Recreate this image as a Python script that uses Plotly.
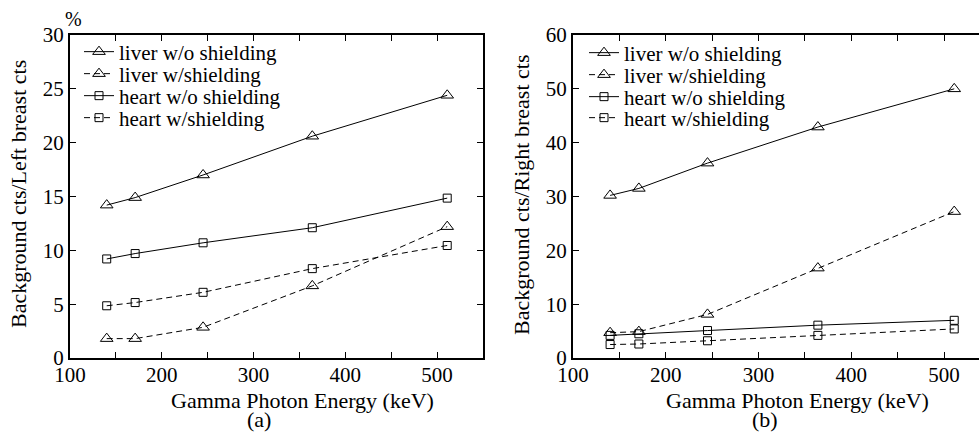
import plotly.graph_objects as go

energy = [140, 171, 245, 364, 511]

# Panel (a): Background cts / Left breast cts (%)
a_liver_wo = [14.2, 14.9, 17.0, 20.6, 24.4]
a_liver_w = [1.8, 1.8, 2.85, 6.7, 12.2]
a_heart_wo = [9.2, 9.7, 10.7, 12.1, 14.85]
a_heart_w = [4.85, 5.15, 6.1, 8.3, 10.45]

# Panel (b): Background cts / Right breast cts (%)
b_liver_wo = [30.2, 31.5, 36.2, 42.9, 50.0]
b_liver_w = [4.7, 4.9, 8.1, 16.7, 27.2]
b_heart_wo = [4.2, 4.5, 5.1, 6.1, 7.0]
b_heart_w = [2.5, 2.6, 3.2, 4.2, 5.4]

series_names = ["liver w/o shielding", "liver w/shielding",
                "heart w/o shielding", "heart w/shielding"]
x_ticks = [100, 200, 300, 400, 500]

FONT = "Liberation Serif, Times New Roman, serif"
W, H = 979, 432
MT, MB = 35, 74
PH = H - MT - MB


def px_x(px):
    return px / W


def px_y(py):
    return (H - MB - py) / PH


fig = go.Figure()

styles = [("triangle-up-open", 11, "solid"),
          ("triangle-up-open", 11, "dash"),
          ("square-open", 8, "solid"),
          ("square-open", 8, "dash")]

panel_a = [a_liver_wo, a_liver_w, a_heart_wo, a_heart_w]
panel_b = [b_liver_wo, b_liver_w, b_heart_wo, b_heart_w]

leg_rows_a = [52, 74, 96, 118]
leg_rows_b = [53, 75, 97, 118]
legend_font = dict(family=FONT, size=21, color="black")
legend_layout = {}

k = 0
for panel, (xa, ya), rows, lx in [(panel_a, ("x", "y"), leg_rows_a, 79),
                                  (panel_b, ("x2", "y2"), leg_rows_b, 584)]:
    for name, ys, (sym, sz, dash), row in zip(series_names, panel, styles, rows):
        k += 1
        lname = "legend" if k == 1 else f"legend{k}"
        fig.add_trace(go.Scatter(
            x=energy, y=ys, name=name, mode="lines+markers",
            line=dict(color="black", width=1, dash="6px,4px" if dash == "dash" else "solid"),
            marker=dict(symbol=sym, size=sz, color="black", line=dict(width=1, color="black")),
            xaxis=xa, yaxis=ya, legend=lname))
        legend_layout[lname] = dict(x=px_x(lx), y=px_y(row), xanchor="left", yanchor="middle",
                                    font=legend_font, bgcolor="rgba(0,0,0,0)",
                                    itemwidth=30, borderwidth=0)

tickfont = dict(family=FONT, size=21, color="black")

common_x = dict(showgrid=False, zeroline=False, showline=True, linecolor="black", linewidth=2,
                ticks="inside", ticklen=6, tickwidth=1, tickcolor="black",
                tickvals=x_ticks, tickfont=tickfont, mirror="ticks", automargin=False,
                ticklabelstandoff=-3,
                minor=dict(ticks="inside", dtick=50, tick0=100, ticklen=6, tickwidth=1, tickcolor="black"))
common_y = dict(showgrid=False, zeroline=False, showline=True, linecolor="black", linewidth=2,
                ticks="inside", ticklen=6, tickwidth=1, tickcolor="black", tickfont=tickfont,
                automargin=False)

fig.update_layout(
    width=W, height=H,
    margin=dict(l=0, r=0, t=MT, b=MB, autoexpand=False),
    plot_bgcolor="white", paper_bgcolor="white",
    font=dict(family=FONT, color="black"),
    xaxis=dict(domain=[70 / W, 483 / W], range=[100, 550], anchor="y", **common_x),
    yaxis=dict(domain=[0, 1], range=[0, 30], dtick=5, anchor="x", mirror="ticks", **common_y),
    xaxis2=dict(domain=[573 / W, 1.0], range=[100, 537.7], anchor="y2", **common_x),
    yaxis2=dict(domain=[0, 1], range=[0, 60], dtick=10, anchor="x2", mirror=False, **common_y),
    showlegend=True,
    **legend_layout,
)

ann_font = dict(family=FONT, size=22, color="black")
annotations = [
    dict(text="%", x=px_x(73), y=px_y(19), font=dict(family=FONT, size=20, color="black")),
    dict(text="Background cts/Left breast cts", x=px_x(18), y=px_y(194), textangle=-90, font=ann_font),
    dict(text="Background cts/Right breast cts", x=px_x(522), y=px_y(195), textangle=-90, font=ann_font),
    dict(text="Gamma Photon Energy (keV)", x=px_x(302), y=px_y(400), font=ann_font),
    dict(text="(a)", x=px_x(259), y=px_y(419), font=ann_font),
    dict(text="Gamma Photon Energy (keV)", x=px_x(797), y=px_y(400), font=ann_font),
    dict(text="(b)", x=px_x(765), y=px_y(419), font=ann_font),
]
for a in annotations:
    a.update(xref="paper", yref="paper", showarrow=False, xanchor="center", yanchor="middle")
fig.update_layout(annotations=annotations)

fig.write_html("out.html")
